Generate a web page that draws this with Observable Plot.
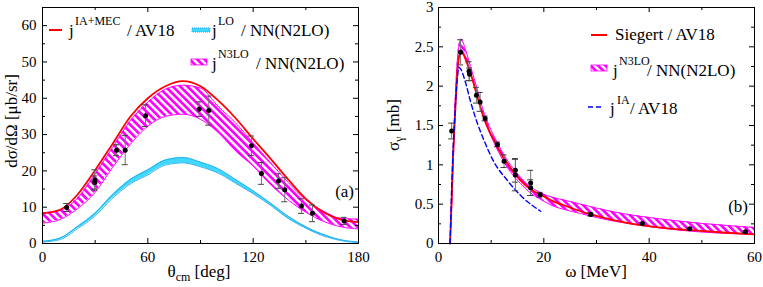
<!DOCTYPE html>
<html><head><meta charset="utf-8">
<script src="https://cdn.jsdelivr.net/npm/d3@7"></script>
<script src="https://cdn.jsdelivr.net/npm/@observablehq/plot@0.6"></script>
<style>
html,body{margin:0;padding:0;background:#fff;}
#wrap{position:relative;width:763px;height:287px;overflow:hidden;background:#fff;}
#wrap svg{position:absolute;top:0;}
</style></head><body><div id="wrap"></div>
<script>
// ---------- Panel (a): differential cross section ----------
const thetaGrid   = [0,10,20,30,40,50,60,70,80,90,100,110,120,130,140,150,160,170,180];
const sigmaIaMec  = [8.3,9.3,13.5,20.2,27.5,34.9,40.0,43.3,44.7,43.3,39.4,34.5,28.8,23.3,17.6,12.3,8.6,6.6,5.9];
const n3loUpperA  = [8.5,9.1,12.5,19.2,26.5,33.8,38.9,42.5,43.6,42.8,37.8,33.2,27.7,22.2,16.8,12.0,8.9,6.9,6.7];
const n3loLowerA  = [5.6,6.6,9.6,14.1,21.0,27.3,32.3,35.0,35.6,34.2,30.6,25.5,21.3,16.2,12.0,8.6,6.1,4.6,4.0];
const loUpper     = [0.6,1.5,4.7,8.4,13.5,17.6,20.3,23.0,23.7,22.4,20.6,17.6,14.5,11.1,7.5,4.6,2.5,1.0,0.4];
const loLower     = [0.4,1.1,4.1,7.6,12.5,16.4,18.9,21.6,22.2,21.1,19.4,16.6,13.7,10.5,6.9,4.2,2.1,0.8,0.2];
const thetaData   = [13.8,29.8,29.8,42.2,47.1,58.7,89.2,94.7,119,124.7,134.4,138,147.5,153.8,171.8];
const dsigData    = [9.9,17.5,16.8,25.7,25.7,35.2,37.0,36.6,26.9,19.3,17.2,14.8,10.3,8.3,6.2];
const dsigErr     = [1.1,2.8,1.8,1.5,4.0,3.0,2.0,4.0,2.7,3.0,2.0,3.3,2.0,2.3,1.0];
const xTicksA = [0,60,120,180], xMinorA = [30,90,150];
const yTicksA = [0,10,20,30,40,50,60], yMinorA = [5,15,25,35,45,55];

// ---------- Panel (b): total photodisintegration cross section ----------
const omegaRed     = [2.2,2.5,2.8,3.0,3.3,3.6,4.0,4.3,4.7,5.2,6.1,7.4,8.65,10,11.2,12.4,13.1,14,15.6,17.5,20,22,24,27,29,33,38.4,44,48,54,60];
const sigmaSiegert = [0,0.55,1.15,1.44,1.85,2.2,2.40,2.435,2.41,2.33,2.16,1.86,1.59,1.38,1.23,1.08,1.02,0.93,0.80,0.69,0.60,0.53,0.48,0.41,0.37,0.30,0.233,0.19,0.169,0.14,0.115];
const omegaBlue    = [2.2,2.65,3.0,3.3,3.6,3.9,4.2,5.2,6.1,7.4,8.65,10.5,13.1,15.6,19.4];
const sigmaIA      = [0,1.0,1.5,1.86,2.12,2.24,2.22,2.03,1.80,1.525,1.31,1.04,0.80,0.61,0.41];
const omegaBand    = [2.2,2.6,3.0,3.3,3.6,4.0,4.3,4.7,5.2,6.1,7.4,8.65,10,11.2,12.4,14,15.6,17.5,19.4,22,24,27,30,35,40,45,50,55,60];
const n3loUpperB   = [0,0.75,1.55,2.0,2.35,2.56,2.60,2.55,2.45,2.25,1.95,1.66,1.44,1.28,1.13,0.97,0.84,0.72,0.645,0.58,0.55,0.5,0.45,0.38,0.33,0.29,0.255,0.228,0.203];
const n3loLowerB   = [0,0.65,1.40,1.85,2.22,2.42,2.47,2.44,2.35,2.17,1.87,1.58,1.36,1.19,1.04,0.88,0.76,0.64,0.56,0.47,0.43,0.38,0.33,0.265,0.215,0.175,0.145,0.128,0.115];
const omegaData    = [2.5,4.2,5.8,5.9,7.2,7.9,8.85,11.2,12.45,14.6,14.6,17.5,17.5,19.3,28.9,38.7,47.7,58.3];
const sigmaData    = [1.43,2.43,2.19,2.15,1.885,1.80,1.59,1.26,1.046,0.93,0.87,0.77,0.71,0.62,0.37,0.254,0.186,0.148];
const sigmaErr     = [0.1,0.16,0.12,0.08,0.1,0.12,0.03,0.03,0.08,0.15,0.2,0.16,0.1,0.03,0.02,0.01,0.01,0.01];
const xTicksB = [0,20,40,60], xMinorB = [10,30,50];
const yTicksB = [0,0.5,1,1.5,2,2.5,3], yMinorB = [0.25,0.75,1.25,1.75,2.25,2.75];

const FONT = "'Liberation Serif','Times New Roman',serif";
const RED = "#ff0000", MAG = "#ff00ff", CYAN = "#40d8ff", CYAN_D = "#1aa8f0", BLUE = "#0000ff";
const H = 287, MT = 7, MB = 44;
const fmt = d => String(d);

function tickMarks(xMaj, xMin, yMaj, yMin, pw, ph) {
  const s = {stroke: "#000", strokeWidth: 1};
  return [
    Plot.ruleX(xMaj, {...s, insetTop: ph - 5}),
    Plot.ruleX(xMaj, {...s, insetBottom: ph - 5}),
    Plot.ruleX(xMin, {...s, insetTop: ph - 3}),
    Plot.ruleX(xMin, {...s, insetBottom: ph - 3}),
    Plot.ruleY(yMaj, {...s, insetRight: pw - 5}),
    Plot.ruleY(yMaj, {...s, insetLeft: pw - 5}),
    Plot.ruleY(yMin, {...s, insetRight: pw - 3}),
    Plot.ruleY(yMin, {...s, insetLeft: pw - 3})
  ];
}
function errMarks(pts) {
  return [
    Plot.ruleX(pts, {x: "x", y1: d => d.y - d.e, y2: d => d.y + d.e, stroke: "#707070", strokeWidth: 1}),
    Plot.ruleY(pts, {y: d => d.y + d.e, x1: "x", x2: "x", insetLeft: -3, insetRight: -3, stroke: "#404040", strokeWidth: 1}),
    Plot.ruleY(pts, {y: d => d.y - d.e, x1: "x", x2: "x", insetLeft: -3, insetRight: -3, stroke: "#404040", strokeWidth: 1}),
    Plot.dot(pts, {x: "x", y: "y", r: 2.5, fill: "#000", stroke: "none"})
  ];
}
function addHatch(svg, id) {
  const defs = d3.select(svg).insert("defs", ":first-child");
  const p = defs.append("pattern").attr("id", id).attr("patternUnits", "userSpaceOnUse")
    .attr("width", 5.2).attr("height", 5.2).attr("patternTransform", "rotate(-45)");
  p.append("rect").attr("width", 5.2).attr("height", 5.2).attr("fill", MAG);
  p.append("rect").attr("width", 2.5).attr("height", 5.2).attr("fill", "#fff");
}
function txt(g, x, y, s, size, anchor) {
  return g.append("text").attr("x", x).attr("y", y).attr("font-size", size)
    .attr("font-family", FONT).attr("fill", "#000").attr("text-anchor", anchor || "start").text(s);
}

const wrap = document.getElementById("wrap");

// ----- Panel (a) -----
{
  const W = 380, ML = 42, MR = 22;
  const pw = W - ML - MR, ph = H - MT - MB;
  const band = thetaGrid.map((t, i) => ({t, lo: n3loLowerA[i], hi: n3loUpperA[i], a: loLower[i], b: loUpper[i], r: sigmaIaMec[i]}));
  const pts = thetaData.map((x, i) => ({x, y: dsigData[i], e: dsigErr[i]}));
  const svg = Plot.plot({
    width: W, height: H, marginLeft: ML, marginRight: MR, marginTop: MT, marginBottom: MB,
    style: {fontFamily: FONT, background: "transparent", overflow: "visible"},
    x: {domain: [0, 180], axis: null},
    y: {domain: [0, 65], axis: null},
    marks: [
      Plot.areaY(band, {x: "t", y1: "a", y2: "b", fill: CYAN, curve: "monotone-x"}),
      Plot.line(band, {x: "t", y: "a", stroke: CYAN_D, strokeWidth: 1, strokeDasharray: "1,1", curve: "monotone-x"}),
      Plot.line(band, {x: "t", y: "b", stroke: CYAN_D, strokeWidth: 1, strokeDasharray: "1,1", curve: "monotone-x"}),
      Plot.areaY(band, {x: "t", y1: "lo", y2: "hi", fill: "url(#hatchA)", curve: "monotone-x"}),
      Plot.line(band, {x: "t", y: "lo", stroke: MAG, strokeWidth: 1, curve: "monotone-x"}),
      Plot.line(band, {x: "t", y: "hi", stroke: MAG, strokeWidth: 1, curve: "monotone-x"}),
      Plot.line(band, {x: "t", y: "r", stroke: RED, strokeWidth: 1.8, curve: "monotone-x"}),
      ...errMarks(pts),
      Plot.frame({stroke: "#000", strokeWidth: 1}),
      ...tickMarks(xTicksA, xMinorA, yTicksA, yMinorA, pw, ph),
      Plot.axisX(xTicksA, {tickSize: 0, tickPadding: 8, fontSize: 15, fontFamily: FONT, label: null, tickFormat: fmt}),
      Plot.axisY(yTicksA, {tickSize: 0, tickPadding: 6, fontSize: 15, fontFamily: FONT, label: null, tickFormat: fmt})
    ]
  });
  svg.style.left = "0px";
  addHatch(svg, "hatchA");
  const g = d3.select(svg).append("g");
  // legend
  g.append("line").attr("x1", 49).attr("x2", 62).attr("y1", 30).attr("y2", 30).attr("stroke", RED).attr("stroke-width", 2);
  txt(g, 69, 36, "j", 17); txt(g, 75, 25, "IA+MEC", 12); txt(g, 127, 36, "/ AV18", 17);
  g.append("rect").attr("x", 192).attr("y", 28).attr("width", 18).attr("height", 4).attr("fill", CYAN)
    .attr("stroke", CYAN_D).attr("stroke-dasharray", "1,1");
  txt(g, 212, 36, "j", 17); txt(g, 218, 25, "LO", 12); txt(g, 241, 36, "/ NN(N2LO)", 17);
  g.append("rect").attr("x", 191).attr("y", 59).attr("width", 16).attr("height", 6).attr("fill", "url(#hatchA)").attr("stroke", MAG).attr("stroke-width", 0.8);
  txt(g, 212, 69, "j", 17); txt(g, 218, 58, "N3LO", 12); txt(g, 256, 69, "/ NN(N2LO)", 17);
  txt(g, 354, 197, "(a)", 17, "end");
  // axis titles
  const xt = txt(g, 199, 277, "", 17, "middle");
  xt.append("tspan").text("θ");
  xt.append("tspan").attr("font-size", 12).attr("dy", 4).text("cm");
  xt.append("tspan").attr("dy", -4).text(" [deg]");
  txt(g, 0, 0, "dσ/dΩ [μb/sr]", 17, "middle").attr("transform", "translate(17,121) rotate(-90)");
  wrap.appendChild(svg);
}

// ----- Panel (b) -----
{
  const W = 383, ML = 58, MR = 9, OX = 380;
  const pw = W - ML - MR, ph = H - MT - MB;
  const red = omegaRed.map((w, i) => ({w, s: sigmaSiegert[i]}));
  const blue = omegaBlue.map((w, i) => ({w, s: sigmaIA[i]}));
  const band = omegaBand.map((w, i) => ({w, lo: n3loLowerB[i], hi: n3loUpperB[i]}));
  const pts = omegaData.map((x, i) => ({x, y: sigmaData[i], e: sigmaErr[i]}));
  const svg = Plot.plot({
    width: W, height: H, marginLeft: ML, marginRight: MR, marginTop: MT, marginBottom: MB,
    style: {fontFamily: FONT, background: "transparent", overflow: "visible"},
    x: {domain: [0, 60], axis: null},
    y: {domain: [0, 3], axis: null},
    marks: [
      Plot.areaY(band, {x: "w", y1: "lo", y2: "hi", fill: "url(#hatchB)", curve: "monotone-x"}),
      Plot.line(band, {x: "w", y: "lo", stroke: MAG, strokeWidth: 1, curve: "monotone-x"}),
      Plot.line(band, {x: "w", y: "hi", stroke: MAG, strokeWidth: 1, curve: "monotone-x"}),
      Plot.line(red, {x: "w", y: "s", stroke: RED, strokeWidth: 1.8, curve: "monotone-x"}),
      Plot.line(blue, {x: "w", y: "s", stroke: BLUE, strokeWidth: 1.4, strokeDasharray: "5,3", curve: "monotone-x"}),
      ...errMarks(pts),
      Plot.frame({stroke: "#000", strokeWidth: 1}),
      ...tickMarks(xTicksB, xMinorB, yTicksB, yMinorB, pw, ph),
      Plot.axisX(xTicksB, {tickSize: 0, tickPadding: 8, fontSize: 15, fontFamily: FONT, label: null, tickFormat: fmt}),
      Plot.axisY(yTicksB, {tickSize: 0, tickPadding: 5, fontSize: 15, fontFamily: FONT, label: null, tickFormat: fmt})
    ]
  });
  svg.style.left = OX + "px";
  addHatch(svg, "hatchB");
  const g = d3.select(svg).append("g");
  g.append("line").attr("x1", 591 - OX).attr("x2", 607 - OX).attr("y1", 35).attr("y2", 35).attr("stroke", RED).attr("stroke-width", 2);
  txt(g, 615 - OX, 39.5, "Siegert / AV18", 17);
  g.append("rect").attr("x", 591 - OX).attr("y", 65).attr("width", 16).attr("height", 6).attr("fill", "url(#hatchB)").attr("stroke", MAG).attr("stroke-width", 0.8);
  txt(g, 613 - OX, 75.5, "j", 17); txt(g, 619 - OX, 65, "N3LO", 12); txt(g, 647 - OX, 75.5, "/ NN(N2LO)", 17);
  g.append("line").attr("x1", 588 - OX).attr("x2", 603 - OX).attr("y1", 107).attr("y2", 107).attr("stroke", BLUE).attr("stroke-width", 1.4).attr("stroke-dasharray", "5,3");
  txt(g, 610 - OX, 114, "j", 17); txt(g, 617 - OX, 104, "IA", 12); txt(g, 630 - OX, 114, "/ AV18", 17);
  txt(g, 748 - OX, 212, "(b)", 17, "end");
  txt(g, 596 - OX, 277, "ω [MeV]", 17, "middle");
  const yt = txt(g, 0, 0, "", 17, "middle").attr("transform", `translate(${399 - OX},125) rotate(-90)`);
  yt.append("tspan").text("σ");
  yt.append("tspan").attr("font-size", 12).attr("dy", 4).text("γ");
  yt.append("tspan").attr("dy", -4).text(" [mb]");
  wrap.appendChild(svg);
}
</script></body></html>
